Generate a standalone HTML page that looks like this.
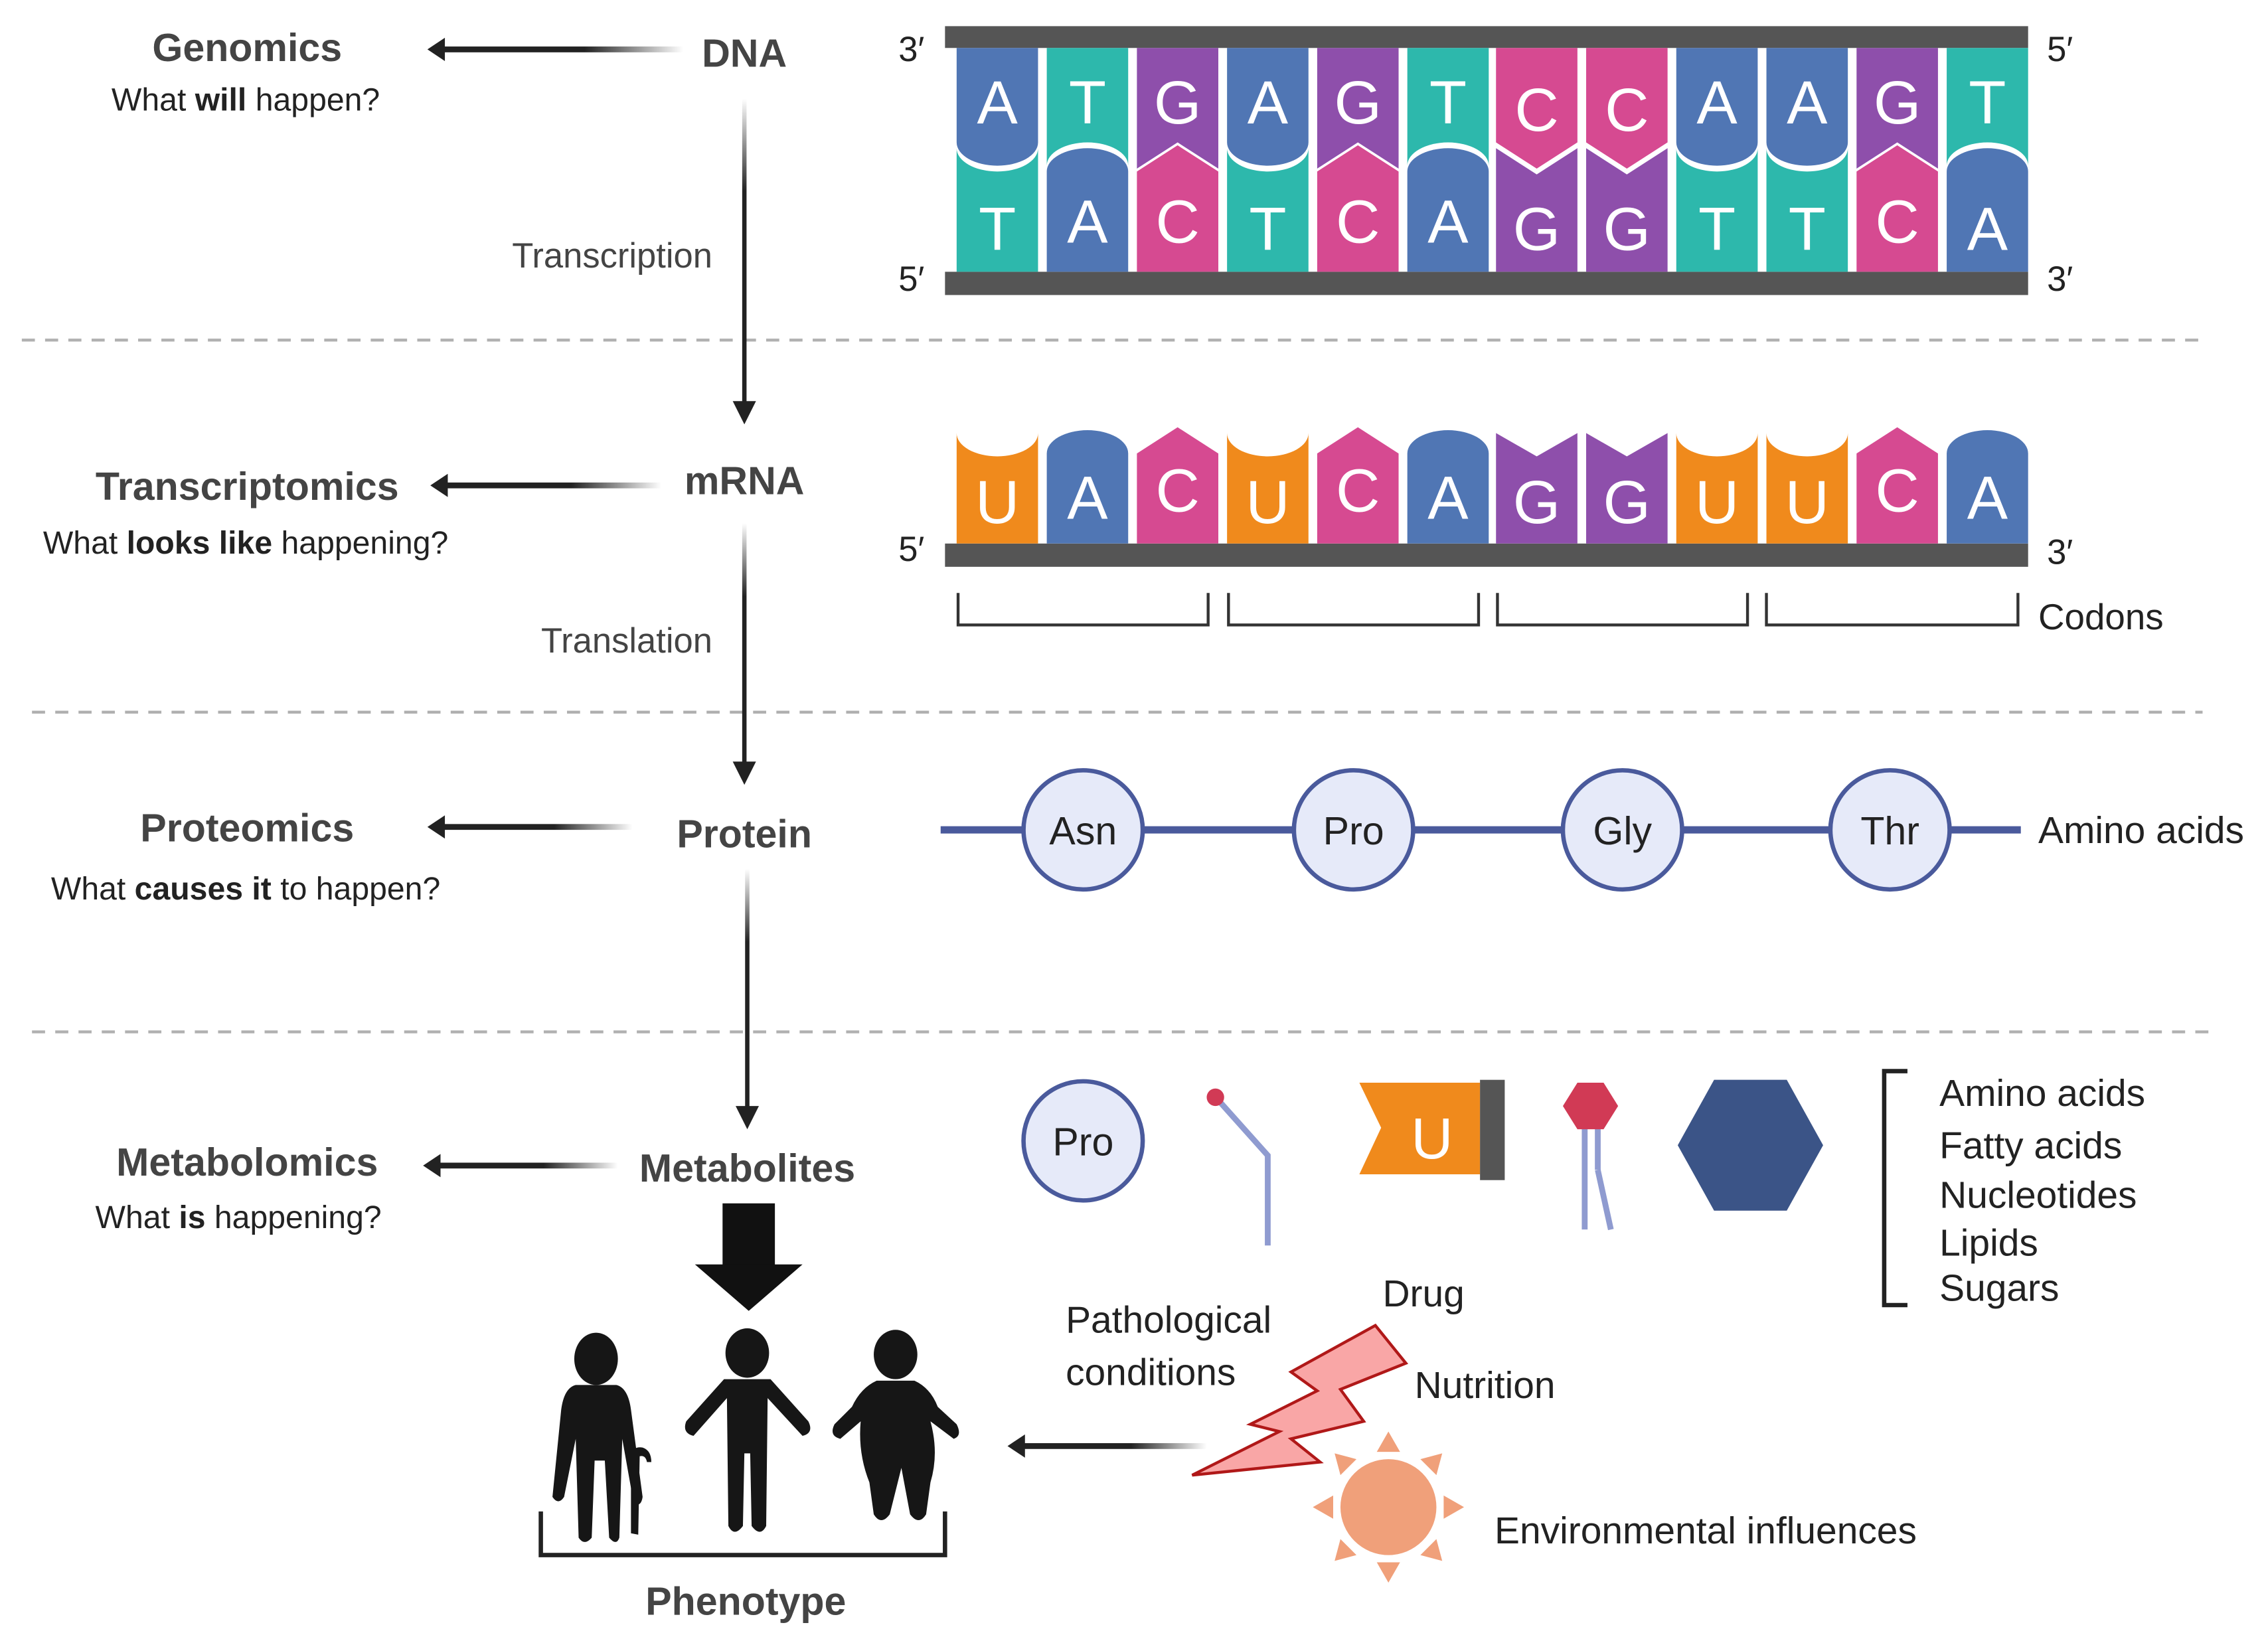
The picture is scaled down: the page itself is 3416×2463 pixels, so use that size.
<!DOCTYPE html>
<html><head><meta charset="utf-8"><style>
html,body{margin:0;padding:0;background:#fff;}
svg{display:block;}
text{font-family:"Liberation Sans",sans-serif;}
</style></head><body>
<svg width="3416" height="2463" viewBox="0 0 1560 1125" preserveAspectRatio="none" xmlns="http://www.w3.org/2000/svg">
<defs>
<linearGradient id="fade" x1="0" x2="1" y1="0" y2="0"><stop offset="0" stop-color="#222"/><stop offset="0.6" stop-color="#222"/><stop offset="1" stop-color="#222" stop-opacity="0"/></linearGradient>
<linearGradient id="fadev" x1="0" x2="0" y1="0" y2="1"><stop offset="0" stop-color="#222" stop-opacity="0"/><stop offset="0.3" stop-color="#222"/><stop offset="1" stop-color="#222"/></linearGradient>
<path id="tA" d="M0,33 H56 V98 A28,16 0 0 1 0,98 Z" fill="#5076b4"/>
<path id="tT" d="M0,33 H56 V114 A28,16 0 0 0 0,114 Z" fill="#2db8ac"/>
<path id="tC" d="M0,33 H56 V98 L28,116 L0,98 Z" fill="#d64a91"/>
<path id="tG" d="M0,33 H56 V116 L28,98 L0,116 Z" fill="#8e4fab"/>
<path id="bT" d="M0,102 A28,16 0 0 0 56,102 V187 H0 Z" fill="#2db8ac"/>
<path id="bA" d="M0,118 A28,16 0 0 1 56,118 V187 H0 Z" fill="#5076b4"/>
<path id="bG" d="M0,102 L28,120 L56,102 V187 H0 Z" fill="#8e4fab"/>
<path id="bC" d="M0,118 L28,100 L56,118 V187 H0 Z" fill="#d64a91"/>
<path id="rA" d="M0,312 A28,16 0 0 1 56,312 V374 H0 Z" fill="#5076b4"/>
<path id="rU" d="M0,298 A28,16 0 0 0 56,298 V374 H0 Z" fill="#f08a1c"/>
<path id="rC" d="M0,312 L28,294 L56,312 V374 H0 Z" fill="#d64a91"/>
<path id="rG" d="M0,298 L28,314 L56,298 V374 H0 Z" fill="#8e4fab"/>
</defs>

<g stroke="#b0b0b0" stroke-width="2" stroke-dasharray="9 7">
<line x1="15" y1="234" x2="1515" y2="234"/>
<line x1="22" y1="490" x2="1515" y2="490"/>
<line x1="22" y1="710" x2="1525" y2="710"/>
</g>

<rect x="650" y="18" width="745" height="15" fill="#555"/>
<rect x="650" y="187" width="745" height="16" fill="#555"/>
<use href="#tA" x="658"/><use href="#bT" x="658"/>
<use href="#tT" x="720"/><use href="#bA" x="720"/>
<use href="#tG" x="782"/><use href="#bC" x="782"/>
<use href="#tA" x="844"/><use href="#bT" x="844"/>
<use href="#tG" x="906"/><use href="#bC" x="906"/>
<use href="#tT" x="968"/><use href="#bA" x="968"/>
<use href="#tC" x="1029"/><use href="#bG" x="1029"/>
<use href="#tC" x="1091"/><use href="#bG" x="1091"/>
<use href="#tA" x="1153"/><use href="#bT" x="1153"/>
<use href="#tA" x="1215"/><use href="#bT" x="1215"/>
<use href="#tG" x="1277"/><use href="#bC" x="1277"/>
<use href="#tT" x="1339"/><use href="#bA" x="1339"/>
<g fill="#fff" font-size="42" text-anchor="middle">
<text x="686" y="85">A</text><text x="748" y="85">T</text><text x="810" y="85">G</text><text x="872" y="85">A</text><text x="934" y="85">G</text><text x="996" y="85">T</text><text x="1057" y="90">C</text><text x="1119" y="90">C</text><text x="1181" y="85">A</text><text x="1243" y="85">A</text><text x="1305" y="85">G</text><text x="1367" y="85">T</text>
<text x="686" y="172">T</text><text x="748" y="167">A</text><text x="810" y="167">C</text><text x="872" y="172">T</text><text x="934" y="167">C</text><text x="996" y="167">A</text><text x="1057" y="172">G</text><text x="1119" y="172">G</text><text x="1181" y="172">T</text><text x="1243" y="172">T</text><text x="1305" y="167">C</text><text x="1367" y="172">A</text>
</g>
<g fill="#222" font-size="24">
<text x="618" y="42">3′</text><text x="1408" y="42">5′</text>
<text x="618" y="200">5′</text><text x="1408" y="200">3′</text>
<text x="618" y="386">5′</text><text x="1408" y="388">3′</text>
</g>

<rect x="650" y="374" width="745" height="16" fill="#555"/>
<use href="#rU" x="658"/><use href="#rA" x="720"/><use href="#rC" x="782"/><use href="#rU" x="844"/><use href="#rC" x="906"/><use href="#rA" x="968"/><use href="#rG" x="1029"/><use href="#rG" x="1091"/><use href="#rU" x="1153"/><use href="#rU" x="1215"/><use href="#rC" x="1277"/><use href="#rA" x="1339"/>
<g fill="#fff" font-size="42" text-anchor="middle">
<text x="686" y="360">U</text><text x="748" y="357">A</text><text x="810" y="352">C</text><text x="872" y="360">U</text><text x="934" y="352">C</text><text x="996" y="357">A</text><text x="1057" y="360">G</text><text x="1119" y="360">G</text><text x="1181" y="360">U</text><text x="1243" y="360">U</text><text x="1305" y="352">C</text><text x="1367" y="357">A</text>
</g>
<g fill="none" stroke="#333" stroke-width="2">
<path d="M659,408 V430 H831 V408"/><path d="M845,408 V430 H1017 V408"/><path d="M1030,408 V430 H1202 V408"/><path d="M1215,408 V430 H1388 V408"/>
</g>
<text x="1402" y="433" font-size="25" fill="#222">Codons</text>

<line x1="647" y1="571" x2="1390" y2="571" stroke="#4a5a9c" stroke-width="5"/>
<g fill="#e6eaf9" stroke="#4a5a9c" stroke-width="3">
<circle cx="745" cy="571" r="41"/><circle cx="931" cy="571" r="41"/><circle cx="1116" cy="571" r="41"/><circle cx="1300" cy="571" r="41"/>
</g>
<g font-size="27" fill="#222" text-anchor="middle">
<text x="745" y="581">Asn</text><text x="931" y="581">Pro</text><text x="1116" y="581">Gly</text><text x="1300" y="581">Thr</text>
</g>
<text x="1402" y="580" font-size="26" fill="#222">Amino acids</text>

<circle cx="745" cy="785" r="41" fill="#e6eaf9" stroke="#4a5a9c" stroke-width="3"/>
<text x="745" y="795" font-size="27" fill="#222" text-anchor="middle">Pro</text>
<polyline points="838,757 872,795 872,857" fill="none" stroke="#8f9bd0" stroke-width="4"/>
<circle cx="836" cy="755" r="6" fill="#d13a55"/>
<path d="M935,745 H1018 V808 H935 L950,776 Z" fill="#f08a1c"/>
<rect x="1018" y="743" width="17" height="69" fill="#555"/>
<text x="985" y="797" font-size="40" fill="#fff" text-anchor="middle">U</text>
<g stroke="#8f9bd0" stroke-width="4" fill="none"><line x1="1090" y1="775" x2="1090" y2="846"/><line x1="1099" y1="775" x2="1099" y2="805"/><line x1="1099" y1="805" x2="1108" y2="846"/></g>
<polygon points="1085,745 1103,745 1113,761 1103,777 1085,777 1075,761" fill="#d13a55"/>
<polygon points="1179,743 1229,743 1254,788 1229,833 1179,833 1154,788" fill="#3b5487"/>
<path d="M1312,737 H1296 V898 H1312" fill="none" stroke="#222" stroke-width="3"/>
<g font-size="26" fill="#222">
<text x="1334" y="761">Amino acids</text><text x="1334" y="797">Fatty acids</text><text x="1334" y="831">Nucleotides</text><text x="1334" y="864">Lipids</text><text x="1334" y="895">Sugars</text>
</g>

<g fill="#444" font-weight="bold" font-size="27" text-anchor="middle">
<text x="170" y="42">Genomics</text>
<text x="170" y="344">Transcriptomics</text>
<text x="170" y="579">Proteomics</text>
<text x="170" y="809">Metabolomics</text>
<text x="512" y="46">DNA</text>
<text x="512" y="340">mRNA</text>
<text x="512" y="583">Protein</text>
<text x="514" y="813">Metabolites</text>
<text x="513" y="1111">Phenotype</text>
</g>
<g fill="#222" font-size="22" text-anchor="middle">
<text x="169" y="76">What <tspan font-weight="bold">will</tspan> happen?</text>
<text x="169" y="381">What <tspan font-weight="bold">looks like</tspan> happening?</text>
<text x="169" y="619">What <tspan font-weight="bold">causes it</tspan> to happen?</text>
<text x="164" y="845">What <tspan font-weight="bold">is</tspan> happening?</text>
</g>
<g fill="#444" font-size="24" text-anchor="end">
<text x="490" y="184">Transcription</text>
<text x="490" y="449">Translation</text>
</g>

<g fill="url(#fade)">
<rect x="300" y="32" width="170" height="4"/>
<rect x="300" y="332" width="155" height="4"/>
<rect x="300" y="567" width="135" height="4"/>
<rect x="297" y="800" width="128" height="4"/>
<rect x="700" y="993" width="130" height="4"/>
</g>
<g fill="#222">
<polygon points="294,34 306,26 306,42"/>
<polygon points="296,334 308,326 308,342"/>
<polygon points="294,569 306,561 306,577"/>
<polygon points="291,802 303,794 303,810"/>
<polygon points="693,995 705,987 705,1003"/>
</g>
<g fill="url(#fadev)">
<rect x="510.5" y="68" width="3" height="212"/>
<rect x="510.5" y="360" width="3" height="168"/>
<rect x="512.5" y="598" width="3" height="167"/>
</g>
<g fill="#222">
<polygon points="512,292 504,276 520,276"/>
<polygon points="512,540 504,524 520,524"/>
<polygon points="514,777 506,761 522,761"/>
</g>
<rect x="497" y="828" width="36" height="43" fill="#111"/>
<polygon points="478,870 552,870 515,902" fill="#111"/>

<g fill="#161616">
<ellipse cx="410" cy="935" rx="15" ry="18"/>
<path d="M396,953 H424 Q432,955 434,970 L442,1030 Q441,1037 436,1035 L428,990 L426,1058 Q424,1064 419,1058 L416,1005 H409 L407,1058 Q402,1064 398,1058 L396,990 L388,1030 Q384,1036 380,1030 L386,970 Q388,955 396,953 Z"/>
<path d="M434,1055 V1000 Q436,995 442,996 Q448,998 448,1006 L445,1006 Q444,1001 440,1002 L439,1056 Z"/>
<ellipse cx="514" cy="931" rx="15" ry="17"/>
<path d="M498,949 H530 L556,978 Q560,986 552,988 L528,962 L527,1050 Q523,1058 517,1050 L516,1000 H512 L511,1050 Q505,1058 501,1050 L500,962 L477,988 Q469,986 472,978 Z"/>
<ellipse cx="616" cy="932" rx="15" ry="17"/>
<path d="M603,950 H629 Q640,955 645,968 L658,980 Q662,988 656,990 L640,978 Q646,1000 640,1020 L637,1042 Q632,1050 626,1042 L620,1010 L612,1042 Q606,1050 601,1042 L598,1020 Q590,1000 592,978 L578,990 Q570,988 574,980 L586,968 Q592,955 603,950 Z"/>
</g>
<path d="M372,1040 V1070 H650 V1040" fill="none" stroke="#222" stroke-width="3"/>

<polygon points="946,912 967,938 922,956 938,978 888,990 908,1006 820,1015 880,985 860,980 906,957 888,944" fill="#f9a6a6" stroke="#b01818" stroke-width="2"/>
<g fill="#f0a07a">
<circle cx="955" cy="1037" r="33"/>
<polygon points="955,985 947,999 963,999"/>
<polygon points="955,1089 947,1075 963,1075"/>
<polygon points="903,1037 917,1029 917,1045"/>
<polygon points="1007,1037 993,1029 993,1045"/>
<polygon points="918,1000 933,1004 922,1015"/>
<polygon points="992,1000 977,1004 988,1015"/>
<polygon points="918,1074 933,1070 922,1059"/>
<polygon points="992,1074 977,1070 988,1059"/>
</g>
<g fill="#222" font-size="26">
<text x="733" y="917">Pathological</text>
<text x="733" y="953">conditions</text>
<text x="951" y="899">Drug</text>
<text x="973" y="962">Nutrition</text>
<text x="1028" y="1062">Environmental influences</text>
</g>
</svg>
</body></html>
